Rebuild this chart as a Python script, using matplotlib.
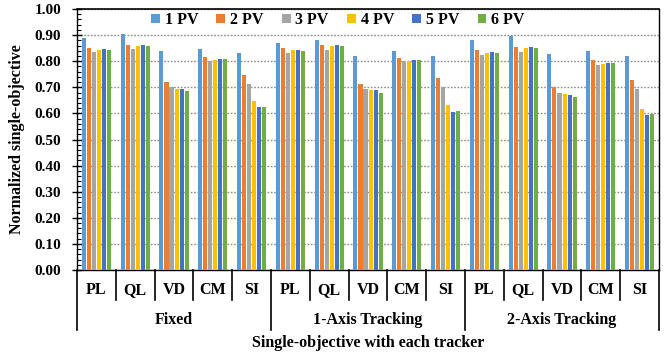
import numpy as np
import matplotlib.pyplot as plt
from matplotlib.ticker import MultipleLocator, FormatStrFormatter

trackers = ['Fixed', '1-Axis Tracking', '2-Axis Tracking']
objectives = ['PL', 'QL', 'VD', 'CM', 'SI']
series = ['1 PV', '2 PV', '3 PV', '4 PV', '5 PV', '6 PV']
colors = ['#5B9BD5', '#ED7D31', '#A5A5A5', '#FFC000', '#4472C4', '#70AD47']

# one list per PV count, 15 values: Fixed PL..SI, 1-Axis PL..SI, 2-Axis PL..SI
pv1 = [0.890, 0.903, 0.839, 0.847, 0.831,
       0.871, 0.882, 0.820, 0.839, 0.820,
       0.883, 0.896, 0.828, 0.838, 0.819]
pv2 = [0.852, 0.864, 0.721, 0.816, 0.748,
       0.849, 0.862, 0.714, 0.811, 0.737,
       0.843, 0.856, 0.702, 0.805, 0.728]
pv3 = [0.835, 0.845, 0.700, 0.802, 0.713,
       0.833, 0.843, 0.692, 0.800, 0.702,
       0.824, 0.835, 0.678, 0.787, 0.692]
pv4 = [0.843, 0.858, 0.694, 0.805, 0.646,
       0.842, 0.858, 0.688, 0.801, 0.631,
       0.833, 0.850, 0.674, 0.791, 0.618]
pv5 = [0.845, 0.864, 0.694, 0.808, 0.624,
       0.843, 0.862, 0.688, 0.805, 0.606,
       0.835, 0.856, 0.671, 0.795, 0.594]
pv6 = [0.842, 0.858, 0.685, 0.808, 0.626,
       0.840, 0.858, 0.678, 0.805, 0.610,
       0.830, 0.850, 0.664, 0.795, 0.599]
values = [pv1, pv2, pv3, pv4, pv5, pv6]

plt.rcParams['font.family'] = ['Liberation Serif', 'DejaVu Serif']
plt.rcParams['font.weight'] = 'bold'

fig = plt.figure(figsize=(6.7, 3.55), dpi=100)
ax = fig.add_axes([0.115, 0.2394, 0.8686, 0.7352])

n_cat = len(trackers) * len(objectives)
x = np.arange(n_cat)
step = 0.13
width = 0.105
for i, (name, vals) in enumerate(zip(series, values)):
    ax.bar(x + (i - 2.5) * step, vals, width, color=colors[i], label=name,
           edgecolor='none', zorder=3)

ax.set_xlim(-0.5, n_cat - 0.5)
ax.set_ylim(0, 1.0)
ax.yaxis.set_major_locator(MultipleLocator(0.1))
ax.yaxis.set_minor_locator(MultipleLocator(0.02))
ax.yaxis.set_major_formatter(FormatStrFormatter('%.2f'))
ax.tick_params(axis='y', which='major', direction='inout', length=7, width=1,
               labelsize=11, pad=8)
ax.tick_params(axis='y', which='minor', direction='in', length=3, width=0.8)
ax.set_xticks([])
ax.grid(axis='y', color='#8c8c8c', linestyle=(0, (1.2, 1.2)), linewidth=1, zorder=0)
for s in ax.spines.values():
    s.set_color('black')
    s.set_linewidth(1)
ax.spines['top'].set_linewidth(1.2)

ax.set_ylabel('Normalized single-objective', fontsize=11.5, fontweight='bold',
              labelpad=7)

# multi-level category axis
trans = ax.get_xaxis_transform()
for k in range(n_cat + 1):
    xb = k - 0.5
    low = -0.23 if k % len(objectives) == 0 else -0.115
    ax.plot([xb, xb], [0, low], color='black', lw=1.2, transform=trans,
            clip_on=False)
for k in range(n_cat):
    ax.text(k, -0.077, objectives[k % len(objectives)], transform=trans,
            ha='center', va='center', fontsize=11.5, fontweight='bold')
for g, name in enumerate(trackers):
    xc = g * len(objectives) + (len(objectives) - 1) / 2
    ax.text(xc, -0.192, name, transform=trans, ha='center', va='center',
            fontsize=11.5, fontweight='bold')
ax.text(0.5, -0.28, 'Single-objective with each tracker', transform=ax.transAxes,
        ha='center', va='center', fontsize=11.5, fontweight='bold')

ax.legend(loc='center', bbox_to_anchor=(0.448, 0.958), ncol=6, frameon=False,
          prop={'size': 11.5, 'weight': 'bold'}, handlelength=0.55,
          handleheight=0.55, handletextpad=0.3, columnspacing=1.15,
          borderpad=0)

fig.savefig('out.png', dpi=100)
